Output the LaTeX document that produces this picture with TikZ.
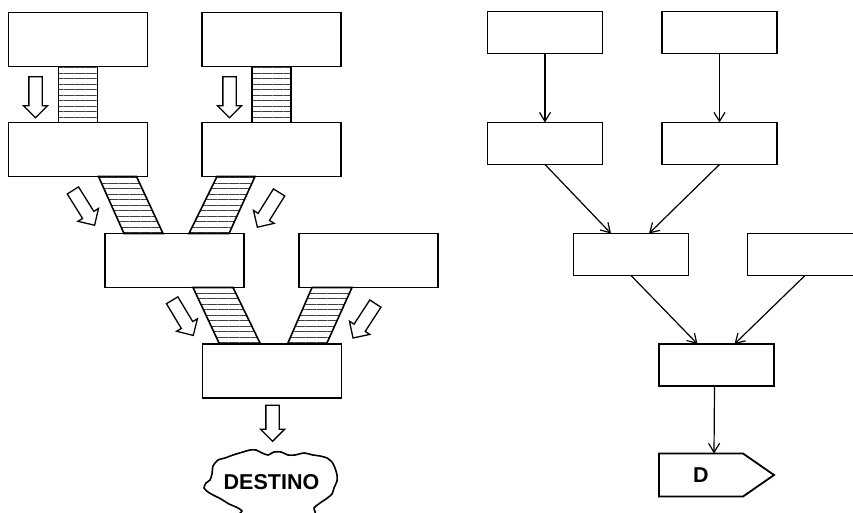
\documentclass[tikz,border=0pt]{standalone}
\usepackage{fontspec}
\setmainfont{Liberation Sans}
\usetikzlibrary{shapes.arrows,patterns.meta,arrows.meta}

\begin{document}
\begin{tikzpicture}[x=1pt,y=-1pt,
bigbox/.style={draw,line width=1.8pt,minimum width=139pt,minimum height=54pt,inner sep=0pt,outer sep=0pt},
smallbox/.style={draw,line width=1.8pt,minimum width=115pt,minimum height=42pt,inner sep=0pt,outer sep=0pt},
stripe/.style={draw,line width=1.6pt,pattern={Lines[angle=0,distance=5.5pt,line width=0.7pt]},pattern color=black!75},
hollow/.style={single arrow,draw,line width=1.3pt,fill=white,inner xsep=0pt,inner ysep=6pt,
  minimum height=41pt,single arrow head extend=5.5pt},
conn/.style={line width=1.2pt,->},
big/.style={font=\bfseries\fontsize{21.5}{24}\selectfont},
>={Straight Barb[length=9pt,width=11pt]}]
\clip (0,0) rectangle (853,513);

% left side
\node [bigbox] (a1) at (78,39.5) {};
\node [bigbox] (a2) at (271.5,39.5) {};
\node [bigbox] (b1) at (78,149.5) {};
\node [bigbox] (b2) at (271.5,149.5) {};
\node [bigbox] (c1) at (174.5,260.5) {};
\node [bigbox] (c2) at (368.5,260.5) {};
\node [bigbox] (e1) at (272,371) {};

\draw [stripe] ([xshift=50]a1.south west) -- ([xshift=89]a1.south west) -- ([xshift=89]b1.north west) -- ([xshift=50]b1.north west) -- cycle;
\draw [stripe] ([xshift=50]a2.south west) -- ([xshift=89]a2.south west) -- ([xshift=89]b2.north west) -- ([xshift=50]b2.north west) -- cycle;
\draw [stripe] ([xshift=90]b1.south west) -- ([xshift=128]b1.south west) -- ([xshift=58]c1.north west) -- ([xshift=19]c1.north west) -- cycle;
\draw [stripe] ([xshift=15]b2.south west) -- ([xshift=53]b2.south west) -- ([xshift=124]c1.north west) -- ([xshift=84]c1.north west) -- cycle;
\draw [stripe] ([xshift=88]c1.south west) -- ([xshift=128]c1.south west) -- ([xshift=58]e1.north west) -- ([xshift=17]e1.north west) -- cycle;
\draw [stripe] ([xshift=13]c2.south west) -- ([xshift=53]c2.south west) -- ([xshift=124]e1.north west) -- ([xshift=85]e1.north west) -- cycle;

\node [hollow, rotate=-90] (h1) at (35.5,94) {};
\node [hollow, rotate=-90] (h2) at (229.5,94) {};
\node [hollow, rotate=-58] (h3) at (82,205) {};
\node [hollow, rotate=-122] (h4) at (270,207) {};
\node [hollow, rotate=-59] (h5) at (181,315) {};
\node [hollow, rotate=-123] (h6) at (366,318) {};
\node [hollow, rotate=-90, minimum height=36pt] (h7) at (272.5,420) {};

% destination cloud
\node [big] (destino) at (271.5,482.5) {DESTINO};
\draw [line width=1.6pt] plot [smooth cycle, tension=0.4] coordinates {
  (213,466) (218,460) (225,458) (233,455) (243,452) (250,450) (256,450) (262,453)
  (268,455) (274,452) (281,452) (288,455) (295,455) (304,453) (313,455) (320,456)
  (327,458) (332,462) (335,468) (337,475) (337,481) (334,488) (332,494) (326,499)
  (320,503) (314,508) (311,516) (240,518) (242,511) (236,507) (229,504) (221,499)
  (213,495) (208,492) (204,488) (206,483) (210,480) (212,474)};

% right side
\node [smallbox] (r1) at (545,32.5) {};
\node [smallbox] (r2) at (719.5,32.5) {};
\node [smallbox] (r3) at (545,143.5) {};
\node [smallbox] (r4) at (719.5,143.5) {};
\node [smallbox] (r5) at (631,254.5) {};
\node [smallbox] (r6) at (805,254.5) {};
\node [smallbox] (r7) at (716.5,365) {};
\node [big, minimum width=84pt, minimum height=43pt, inner sep=0pt, outer sep=0pt] (dsig) at (701,475) {D};
\draw [line width=1.8pt, line join=miter] (dsig.north west) -- (dsig.north east) -- ++(31,21.5) -- (dsig.south east) -- (dsig.south west) -- cycle;

\draw [conn] (r1.south) -- (r3.north);
\draw [conn] (r2.south) -- (r4.north);
\draw [conn] (r3.south) -- ([xshift=-20]r5.north);
\draw [conn] (r4.south) -- ([xshift=18]r5.north);
\draw [conn] (r5.south) -- ([xshift=-19]r7.north);
\draw [conn] (r6.south) -- ([xshift=18]r7.north);
\draw [conn] ([xshift=-2]r7.south) -- ([xshift=13]dsig.north);
\end{tikzpicture}
\end{document}
